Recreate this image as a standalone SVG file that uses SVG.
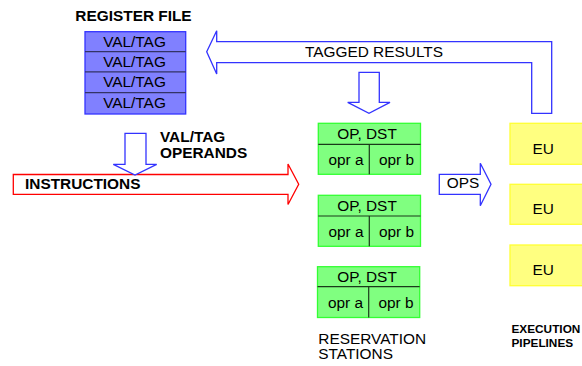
<svg xmlns="http://www.w3.org/2000/svg" width="582" height="366" viewBox="0 0 582 366">
<style>
text{font-family:"Liberation Sans",Arial,sans-serif;fill:#000}
.b{font-weight:bold}
.t15{font-size:15.4px}
.reg{fill:#8080ff;stroke:#3333ff;stroke-width:1.3}
.regdiv{stroke:#333366;stroke-width:1.2}
.rs{fill:#80ff80;stroke:#33ff33;stroke-width:1.3}
.rsdiv{stroke:#1a3a1a;stroke-width:1.2}
.eu{fill:#ffff80;stroke:#ffff33;stroke-width:1.3}
.ba{fill:#fff;stroke:#3333ff;stroke-width:1.3}
.ra{fill:#fff;stroke:#ff0000;stroke-width:1.3}
</style>
<rect width="582" height="366" fill="#fff"/>
<g id="register-file">
<text class="b t15" x="133.5" y="21" text-anchor="middle">REGISTER FILE</text>
<rect class="reg" x="85" y="31.7" width="100.7" height="82.3"/>
<line class="regdiv" x1="85" y1="51.7" x2="185.7" y2="51.7"/>
<line class="regdiv" x1="85" y1="71.8" x2="185.7" y2="71.8"/>
<line class="regdiv" x1="85" y1="92.7" x2="185.7" y2="92.7"/>
<text class="t15" x="134.5" y="46.5" text-anchor="middle">VAL/TAG</text>
<text class="t15" x="134.5" y="66.7" text-anchor="middle">VAL/TAG</text>
<text class="t15" x="134.5" y="87" text-anchor="middle">VAL/TAG</text>
<text class="t15" x="134.5" y="107.5" text-anchor="middle">VAL/TAG</text>
</g>
<g id="connectors">
<g id="tagged-results">
<polygon class="ba" points="206.7,51.7 216.7,30.7 216.7,41.7 551.7,41.7 551.7,113.3 531.7,113.3 531.7,62.7 216.7,62.7 216.7,74"/>
<text class="t15" x="305" y="57">TAGGED RESULTS</text>
</g>
<polygon id="to-rs" class="ba" points="359,72.3 379.3,72.3 379.3,102.3 390,102.3 369,113.3 347.7,102.3 359,102.3"/>
<g id="instructions">
<polygon class="ra" points="13.3,174.5 288,174.5 288,164 298.7,184.3 288,204.5 288,194.3 13.3,194.3"/>
<text class="b t15" x="25" y="188.5">INSTRUCTIONS</text>
</g>
<g id="operands">
<polygon class="ba" points="125,133.3 146,133.3 146,164.3 156.7,164.3 135,175 113.3,164.3 125,164.3"/>
<text class="b t15" x="160" y="142.3">VAL/TAG</text>
<text class="b t15" x="160" y="157.7">OPERANDS</text>
</g>
<g id="ops">
<polygon class="ba" points="439.3,174.3 480.3,174.3 480.3,163.3 491,184.3 480.3,205.7 480.3,194.3 439.3,194.3"/>
<text class="t15" x="446.7" y="188">OPS</text>
</g>
</g>
<g id="rs1">
<rect class="rs" x="318.3" y="123.3" width="102.2" height="51"/>
<line class="rsdiv" x1="318.3" y1="144.3" x2="420.5" y2="144.3"/>
<line class="rsdiv" x1="369.3" y1="144.3" x2="369.3" y2="174.3"/>
<text class="t15" x="367" y="138.5" text-anchor="middle">OP, DST</text>
<text class="t15" x="328.5" y="164.5">opr a</text>
<text class="t15" x="379" y="164.5">opr b</text>
</g>
<g id="rs2">
<rect class="rs" x="318.3" y="195.3" width="102.2" height="51"/>
<line class="rsdiv" x1="318.3" y1="216" x2="420.5" y2="216"/>
<line class="rsdiv" x1="369.3" y1="216" x2="369.3" y2="246.3"/>
<text class="t15" x="367" y="210.5" text-anchor="middle">OP, DST</text>
<text class="t15" x="328.5" y="236.5">opr a</text>
<text class="t15" x="379" y="236.5">opr b</text>
</g>
<g id="rs3">
<rect class="rs" x="317.5" y="266.7" width="102.2" height="50.8"/>
<line class="rsdiv" x1="317.5" y1="286.7" x2="419.7" y2="286.7"/>
<line class="rsdiv" x1="368.7" y1="286.7" x2="368.7" y2="317.5"/>
<text class="t15" x="367" y="281.5" text-anchor="middle">OP, DST</text>
<text class="t15" x="328" y="307.5">opr a</text>
<text class="t15" x="378.5" y="307.5">opr b</text>
</g>
<g id="rs-label">
<text class="t15" x="318.3" y="344">RESERVATION</text>
<text class="t15" x="318.3" y="359.3">STATIONS</text>
</g>
<g id="eu1">
<rect class="eu" x="510" y="123.3" width="80" height="41"/>
<text class="t15" x="532.5" y="154.3">EU</text>
</g>
<g id="eu2">
<rect class="eu" x="510" y="184.3" width="80" height="40"/>
<text class="t15" x="532.5" y="214.3">EU</text>
</g>
<g id="eu3">
<rect class="eu" x="510" y="245" width="80" height="40.7"/>
<text class="t15" x="532.5" y="275">EU</text>
</g>
<g id="eu-label">
<text class="b" font-size="11.8" x="511.5" y="333.3">EXECUTION</text>
<text class="b" font-size="11.8" x="511.5" y="346.7">PIPELINES</text>
</g>
</svg>
